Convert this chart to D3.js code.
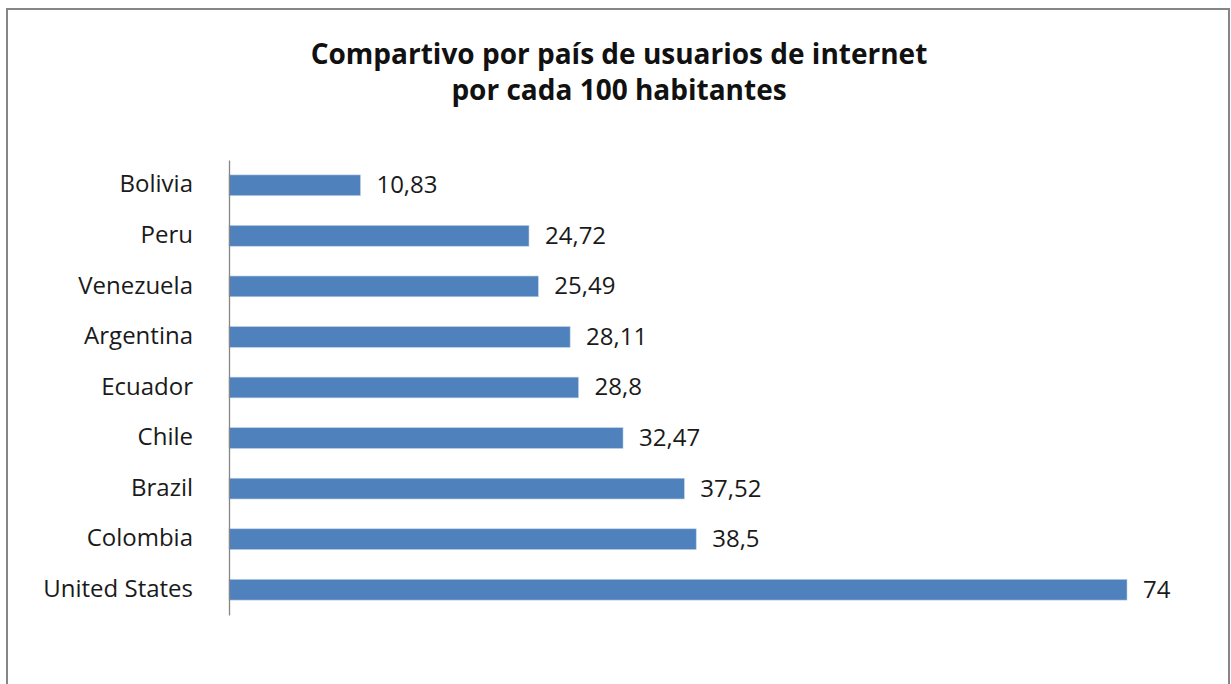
<!DOCTYPE html>
<html>
<head>
<meta charset="utf-8">
<script src="https://cdn.jsdelivr.net/npm/d3@7"></script>
<style>
  body { margin: 0; background: #fff; }
  svg { display: block; font-family: "Open Sans", sans-serif; }
</style>
</head>
<body>
<svg id="svg" width="1231" height="684"></svg>
<script>
var countries = ['Bolivia', 'Peru', 'Venezuela', 'Argentina', 'Ecuador', 'Chile', 'Brazil', 'Colombia', 'United States'];
var users = [10.83, 24.72, 25.49, 28.11, 28.8, 32.47, 37.52, 38.5, 74];
var titleLines = ['Compartivo por país de usuarios de internet', 'por cada 100 habitantes'];

var svg = d3.select('#svg');

// chart frame (bottom runs off the picture)
svg.append('rect')
    .attr('x', 7).attr('y', 9)
    .attr('width', 1222).attr('height', 700)
    .attr('fill', 'none')
    .attr('stroke', '#868686')
    .attr('stroke-width', 2);

svg.append('text')
    .attr('x', 619)
    .attr('y', 64)
    .attr('text-anchor', 'middle')
    .attr('font-weight', 'bold')
    .attr('font-size', 28)
    .attr('fill', '#111')
    .selectAll('tspan')
    .data(titleLines)
    .enter().append('tspan')
    .attr('x', 619)
    .attr('dy', function(d, i) { return i ? 36 : 0; })
    .text(function(d) { return d; });

var x = d3.scaleLinear().domain([0, 74]).range([229, 1127]);
var y = d3.scaleBand().domain(countries).range([160, 615])
    .paddingInner(0.59).paddingOuter(0.295);

var data = countries.map(function(c, i) { return {name: c, value: users[i]}; });

svg.selectAll('rect.bar')
    .data(data)
  .enter().append('rect')
    .attr('class', 'bar')
    .attr('x', x(0))
    .attr('y', function(d) { return y(d.name); })
    .attr('width', function(d) { return x(d.value) - x(0); })
    .attr('height', y.bandwidth())
    .attr('fill', '#4f81bd')
    .attr('stroke', '#b9cde5')
    .attr('stroke-width', 0.6);

svg.selectAll('text.val')
    .data(data)
  .enter().append('text')
    .attr('class', 'val')
    .attr('x', function(d) { return x(d.value) + 16; })
    .attr('y', function(d) { return y(d.name) + y.bandwidth() / 2; })
    .attr('dy', '0.33em')
    .attr('font-size', 24)
    .attr('fill', '#1a1a1a')
    .text(function(d) { return String(d.value).replace('.', ','); });

var axis = d3.axisLeft(y).tickSize(0).tickPadding(36);
var g = svg.append('g')
    .attr('transform', 'translate(' + x(0) + ',0)')
    .call(axis);
g.select('.domain').attr('stroke', '#868686').attr('stroke-width', 1.3);
g.selectAll('.tick text')
    .attr('font-family', '"Open Sans", sans-serif')
    .attr('font-size', 24)
    .attr('dy', '0.3em')
    .attr('fill', '#1a1a1a');
</script>
</body>
</html>
